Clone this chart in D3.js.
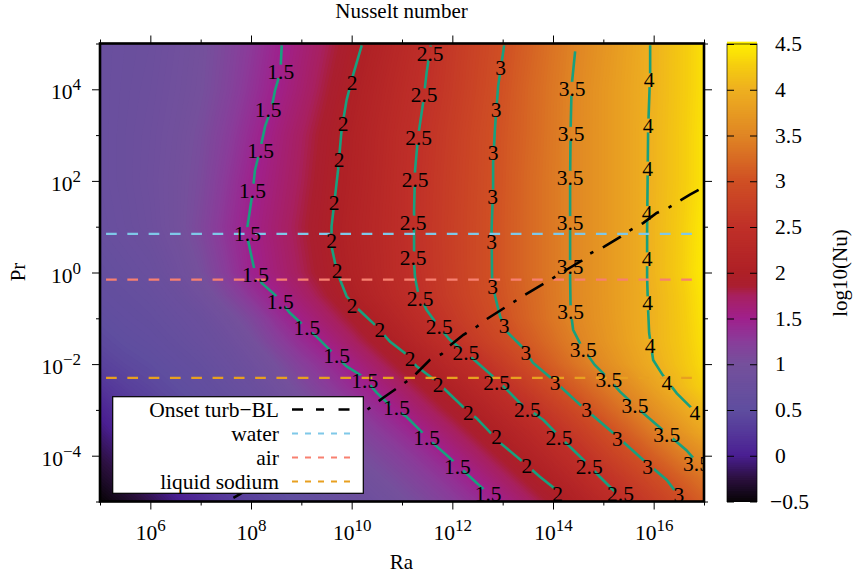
<!DOCTYPE html>
<html>
<head>
<meta charset="utf-8">
<script src="https://cdnjs.cloudflare.com/ajax/libs/d3/7.8.5/d3.min.js"></script>
<style>
  html, body { margin: 0; padding: 0; background: #fff; }
  svg { display: block; }
  text { font-family: "Liberation Serif", serif; fill: #000; }
  .axis path { display: none; }
  .axis line { stroke: #000; stroke-width: 1; }
</style>
</head>
<body>
<svg id="chart" width="853" height="576"></svg>
<script>
// Field grid: log10 of Ra along the columns, log10 of Pr along the rows
var raExps = [5,5.5,6,6.5,7,7.5,8,8.5,9,9.5,10,10.5,11,11.5,12,12.5,13,13.5,14,14.5,15,15.5,16,16.5,17];
var prExps = [5,4,3,2,1,0,-0.5,-1,-1.5,-2,-2.5,-3,-3.5,-4,-4.5,-5];
var logNu = [
  [.72,.76,.8,.88,.98,1.12,1.28,1.46,1.62,1.78,1.94,2.11,2.29,2.47,2.65,2.82,2.99,3.16,3.34,3.51,3.68,3.85,4.02,4.21,4.4],
  [.72,.77,.82,.9,1.0,1.15,1.33,1.51,1.67,1.84,2.01,2.18,2.35,2.51,2.68,2.85,3.02,3.2,3.37,3.54,3.71,3.87,4.03,4.21,4.4],
  [.72,.78,.84,.93,1.05,1.22,1.41,1.59,1.75,1.91,2.07,2.23,2.4,2.56,2.72,2.89,3.05,3.21,3.38,3.55,3.71,3.87,4.04,4.22,4.42],
  [.72,.78,.85,.95,1.08,1.28,1.48,1.63,1.78,1.94,2.09,2.25,2.42,2.58,2.74,2.9,3.06,3.23,3.39,3.55,3.71,3.87,4.04,4.22,4.42],
  [.7,.76,.83,.95,1.12,1.33,1.52,1.67,1.82,1.97,2.12,2.27,2.43,2.59,2.75,2.91,3.07,3.23,3.39,3.55,3.71,3.87,4.05,4.24,4.46],
  [.62,.68,.74,.86,1.02,1.25,1.48,1.63,1.78,1.93,2.09,2.25,2.42,2.58,2.74,2.91,3.07,3.23,3.39,3.55,3.71,3.87,4.05,4.25,4.48],
  [.58,.63,.68,.77,.9,1.1,1.32,1.51,1.68,1.85,2.03,2.2,2.38,2.56,2.72,2.89,3.05,3.21,3.38,3.55,3.71,3.87,4.03,4.22,4.45],
  [.52,.58,.63,.7,.78,.93,1.12,1.35,1.55,1.71,1.88,2.06,2.26,2.46,2.65,2.83,3.01,3.19,3.37,3.54,3.7,3.87,4.03,4.21,4.43],
  [.45,.52,.57,.64,.72,.82,.98,1.2,1.39,1.56,1.73,1.91,2.1,2.31,2.51,2.71,2.9,3.1,3.29,3.48,3.67,3.85,4.03,4.2,4.4],
  [.36,.44,.5,.57,.64,.74,.86,1.02,1.22,1.38,1.55,1.73,1.91,2.09,2.29,2.48,2.71,2.94,3.16,3.37,3.57,3.78,3.98,4.17,4.37],
  [.22,.34,.42,.5,.57,.66,.76,.9,1.07,1.24,1.4,1.56,1.73,1.9,2.08,2.28,2.49,2.71,2.94,3.15,3.36,3.58,3.83,4.07,4.3],
  [.05,.22,.33,.42,.5,.58,.67,.79,.94,1.09,1.23,1.39,1.56,1.73,1.9,2.08,2.28,2.48,2.7,2.92,3.15,3.38,3.62,3.86,4.1],
  [-.08,.08,.2,.32,.41,.5,.58,.7,.82,.96,1.1,1.24,1.38,1.55,1.72,1.9,2.08,2.27,2.48,2.7,2.92,3.15,3.4,3.65,3.9],
  [-.22,-.08,.05,.2,.32,.42,.5,.6,.72,.85,.98,1.1,1.23,1.37,1.54,1.72,1.9,2.09,2.29,2.49,2.72,2.93,3.15,3.39,3.6],
  [-.35,-.22,-.07,.08,.22,.34,.43,.52,.62,.74,.86,.98,1.1,1.23,1.37,1.54,1.72,1.9,2.08,2.29,2.5,2.71,2.92,3.13,3.35],
  [-.5,-.36,-.2,-.03,.12,.26,.36,.45,.55,.65,.76,.87,.98,1.1,1.23,1.37,1.54,1.72,1.9,2.08,2.3,2.52,2.72,2.93,3.15]
];

// Palette stops of the colour box
var cbStops  = [-0.5, -0.25, 0, 0.25, 0.5, 1, 1.25, 1.5, 1.75, 1.85, 2, 2.5, 3, 3.5, 4, 4.25, 4.5];
var cbColors = ["#080408","#2c1040","#4a1f92","#55389a","#5f4e9f","#75509c","#8a3c9a","#a0208c","#a8205e","#aa1f30","#ae2026","#c03028","#d05024","#e08624","#eeb020","#f5cc10","#fff000"];
var cbTicks  = [-0.5,0,0.5,1,1.5,2,2.5,3,3.5,4,4.5];

var raMajor = [6,8,10,12,14,16];
var raMinor = [5,7,9,11,13,15,17];
var prMajor = [4,2,0,-2,-4];
var prMinor = [5,3,1,-1,-3,-5];

// Contour lines, [log10 Ra, log10 Pr]
var contourLevels = [
  {level: "1.5", pts: [[8.61,4.96],[8.59,4.5],[8.54,4.21],[8.48,3.99],[8.41,3.6],[8.28,3.19],[8.18,2.68],[8.08,2.24],[8.03,1.74],[7.97,1.3],[7.91,.87],[7.98,.5],[8.06,.1],[8.21,-.23],[8.51,-.52],[8.77,-.88],[9.03,-1.14],[9.3,-1.4],[9.63,-1.76],[9.9,-2.05],[10.22,-2.27],[10.5,-2.63],[10.82,-2.96],[11.09,-3.15],[11.29,-3.37],[11.61,-3.72],[11.95,-4.05],[12.35,-4.46],[12.68,-4.79]]},
  {level: "2", pts: [[10.2,4.96],[10.1,4.58],[10.03,4.32],[9.9,3.77],[9.8,3.12],[9.73,2.24],[9.67,1.66],[9.6,1.01],[9.6,.57],[9.67,.21],[9.77,-.16],[9.9,-.52],[10.1,-.77],[10.5,-1.18],[10.76,-1.51],[11.06,-1.76],[11.29,-2.05],[11.69,-2.38],[12.21,-2.93],[12.48,-3.18],[12.95,-3.72],[13.4,-4.13],[13.74,-4.46],[14.07,-4.75]]},
  {level: "2.5", pts: [[11.57,4.96],[11.49,4.37],[11.42,3.71],[11.32,2.97],[11.26,2.24],[11.24,1.37],[11.24,.79],[11.24,.21],[11.26,-.12],[11.32,-.44],[11.49,-.82],[11.75,-1.21],[11.95,-1.47],[12.28,-1.76],[12.55,-2.02],[12.95,-2.41],[13.34,-2.85],[13.81,-3.22],[14.2,-3.66],[14.67,-4.16],[14.93,-4.46],[15.26,-4.82]]},
  {level: "3", pts: [[13.03,4.96],[12.91,4.07],[12.85,3.19],[12.81,2.4],[12.81,1.88],[12.78,.93],[12.79,-.12],[12.85,-.52],[12.95,-.96],[13.08,-1.29],[13.41,-1.65],[13.6,-1.97],[14,-2.34],[14.54,-2.89],[15.19,-3.5],[15.79,-4.09],[16.26,-4.53],[16.46,-4.82]]},
  {level: "3.5", pts: [[14.44,4.83],[14.37,4.07],[14.35,3.12],[14.34,2.03],[14.34,.93],[14.34,-.12],[14.35,-.82],[14.4,-1.25],[14.57,-1.62],[14.83,-2.02],[15.13,-2.35],[15.33,-2.6],[15.79,-3.07],[16.18,-3.44],[16.65,-3.88],[16.85,-4.13]]},
  {level: "4", pts: [[15.93,4.96],[15.93,4.37],[15.89,3.12],[15.88,2.03],[15.87,.93],[15.87,-.12],[15.89,-.82],[15.91,-1.32],[15.99,-1.91],[16.18,-2.24],[16.46,-2.64],[16.79,-3]]}
];

// Where gnuplot put the labels on those contours
var contourLabels = [
  {level: "1.5", pts: [[8.59,4.39],[8.34,3.55],[8.19,2.66],[8.03,1.79],[7.93,.84],[8.09,-.05],[8.58,-.64],[9.11,-1.21],[9.7,-1.83],[10.26,-2.37],[10.89,-2.96],[11.49,-3.62],[12.1,-4.24],[12.71,-4.84]]},
  {level: "2", pts: [[10.01,4.14],[9.83,3.25],[9.75,2.45],[9.65,1.52],[9.6,.7],[9.71,.04],[10.01,-.72],[10.56,-1.25],[11.16,-1.89],[11.72,-2.45],[12.32,-3.06],[12.88,-3.6],[13.48,-4.22],[14.09,-4.84]]},
  {level: "2.5", pts: [[11.56,4.78],[11.44,3.87],[11.33,2.94],[11.26,2.03],[11.22,1.09],[11.22,.31],[11.36,-.57],[11.74,-1.19],[12.27,-1.76],[12.88,-2.4],[13.49,-3],[14.12,-3.62],[14.72,-4.24],[15.34,-4.84]]},
  {level: "3", pts: [[12.96,4.47],[12.87,3.55],[12.81,2.61],[12.8,1.66],[12.78,.66],[12.8,-.31],[13.03,-1.17],[13.46,-1.76],[14.04,-2.42],[14.67,-3],[15.28,-3.64],[15.88,-4.24],[16.5,-4.86]]},
  {level: "3.5", pts: [[14.38,4.01],[14.36,3.03],[14.34,2.07],[14.34,1.08],[14.34,.12],[14.35,-.87],[14.6,-1.69],[15.11,-2.35],[15.63,-2.92],[16.26,-3.55],[16.85,-4.17]]},
  {level: "4", pts: [[15.91,4.2],[15.89,3.21],[15.88,2.27],[15.87,1.3],[15.87,.29],[15.88,-.67],[15.93,-1.6],[16.26,-2.4],[16.82,-3.06]]}
];

// Onset of the turbulent boundary layer
var onsetLine = [[7.65,-4.92],[7.78,-4.84],[10.23,-3.06],[10.44,-2.89],[10.62,-2.74],[11.09,-2.38],[11.29,-2.2],[11.55,-1.91],[11.79,-1.78],[11.95,-1.6],[12.22,-1.36],[12.49,-1.18],[12.68,-1.02],[13.08,-.74],[13.44,-.49],[13.81,-.25],[14.27,.06],[14.57,.26],[14.73,.41],[15.01,.56],[15.33,.77],[15.53,.92],[15.79,1.08],[16.06,1.3],[16.29,1.41],[16.52,1.57],[16.72,1.7],[16.95,1.84]];

// Prandtl numbers of the three fluids
var fluidNames  = ["water", "air", "liquid sodium"];
var fluidPr     = [7, 0.7, 0.005];
var fluidColors = ["#7fc8e8", "#f88070", "#e8a020"];
var fluidRaExps = [5.12, 16.78];

var svg = d3.select("#chart");

var x = d3.scaleLog().domain([1e5, 1e17]).range([100, 704]);
var y = d3.scaleLog().domain([1e5, 1e-5]).range([43.5, 501.5]);
var cb = d3.scaleLinear().domain([-0.5, 4.5]).range([501.5, 44]);
var color = d3.scaleLinear().domain(cbStops).range(cbColors);

var defs = svg.append("defs");
defs.append("clipPath").attr("id", "plot-clip")
  .append("rect").attr("x", 100).attr("y", 43.5).attr("width", 604).attr("height", 458);

////////////////////////////////////////////////
// Heat map, as stacked filled contours of the grid

var colIndex = d3.scaleLinear().domain(raExps.map(function(d, i) { return i + 0.5; })).range(raExps);
var rowIndex = d3.scaleLinear().domain(prExps.map(function(d, i) { return i + 0.5; })).range(prExps);

var gridPath = d3.geoPath(d3.geoTransform({
  point: function(cx, cy) {
    this.stream.point(x(Math.pow(10, colIndex(cx))), y(Math.pow(10, rowIndex(cy))));
  }
}));

var bands = d3.range(-0.5, 4.51, 0.02);
var field = d3.contours()
  .size([raExps.length, prExps.length])
  .thresholds(bands)(d3.merge(logNu));

var plot = svg.append("g").attr("clip-path", "url(#plot-clip)");

plot.append("rect")
  .attr("x", 100).attr("y", 43.5).attr("width", 604).attr("height", 458)
  .attr("fill", color(-0.5));

plot.append("g").selectAll("path")
  .data(field)
  .join("path")
    .attr("d", gridPath)
    .attr("fill", function(d) { return color(d.value); });

////////////////////////////////////////////////
// Contours, fluids and onset line

var line = d3.line()
  .x(function(d) { return x(Math.pow(10, d[0])); })
  .y(function(d) { return y(Math.pow(10, d[1])); });

// Contours are broken underneath their labels
var mask = defs.append("mask").attr("id", "label-gaps").attr("maskUnits", "userSpaceOnUse")
  .attr("x", 0).attr("y", 0).attr("width", 853).attr("height", 576);
mask.append("rect").attr("width", 853).attr("height", 576).attr("fill", "#fff");
contourLabels.forEach(function(c) {
  mask.selectAll(null)
    .data(c.pts)
    .join("circle")
      .attr("cx", function(d) { return x(Math.pow(10, d[0])); })
      .attr("cy", function(d) { return y(Math.pow(10, d[1])); })
      .attr("r", 7)
      .attr("fill", "#000");
});

plot.append("g").attr("mask", "url(#label-gaps)").selectAll("path")
  .data(contourLevels)
  .join("path")
    .attr("d", function(d) { return line(d.pts); })
    .attr("fill", "none")
    .attr("stroke", "#18a07e")
    .attr("stroke-width", 2.6);

plot.append("g").selectAll("line")
  .data(fluidPr)
  .join("line")
    .attr("x1", x(Math.pow(10, fluidRaExps[0])))
    .attr("x2", x(Math.pow(10, fluidRaExps[1])))
    .attr("y1", function(d) { return y(d); })
    .attr("y2", function(d) { return y(d); })
    .attr("stroke", function(d, i) { return fluidColors[i]; })
    .attr("stroke-width", 2.2)
    .attr("stroke-dasharray", "10.7,10.6");

plot.append("path")
  .attr("d", line(onsetLine))
  .attr("fill", "none")
  .attr("stroke", "#000")
  .attr("stroke-width", 2.6)
  .attr("stroke-dasharray", "21,10.5,3.5,10.5")
  .attr("stroke-dashoffset", 7.4);

contourLabels.forEach(function(c) {
  plot.append("g").selectAll("text")
    .data(c.pts)
    .join("text")
      .attr("x", function(d) { return x(Math.pow(10, d[0])); })
      .attr("y", function(d) { return y(Math.pow(10, d[1])); })
      .attr("dy", "0.33em")
      .attr("text-anchor", "middle")
      .attr("font-size", 21.5)
      .text(c.level);
});

////////////////////////////////////////////////
// Axes

function power(d) { return Math.pow(10, d); }

function add_ticks(axisFn, scale, values, size, tx, ty) {
  svg.append("g")
    .attr("class", "axis")
    .attr("transform", "translate(" + tx + "," + ty + ")")
    .call(axisFn(scale).tickValues(values.map(power)).tickFormat("").tickSize(size));
}

[[d3.axisBottom, 501.5], [d3.axisTop, 43.5]].forEach(function(a) {
  add_ticks(a[0], x, raMajor, 8, 0, a[1]);
  add_ticks(a[0], x, raMinor, 4, 0, a[1]);
});
[[d3.axisLeft, 100], [d3.axisRight, 704]].forEach(function(a) {
  add_ticks(a[0], y, prMajor, 8, a[1], 0);
  add_ticks(a[0], y, prMinor, 4, a[1], 0);
});

svg.append("rect")
  .attr("x", 100).attr("y", 43.5).attr("width", 604).attr("height", 458)
  .attr("fill", "none")
  .attr("stroke", "#000")
  .attr("stroke-width", 2.6);

function exp_label(sel) {
  sel.append("tspan").text("10");
  sel.append("tspan")
    .attr("dy", -9)
    .attr("font-size", 17)
    .text(function(d) { return String(d).replace("-", "\u2212"); });
}

svg.append("g").selectAll("text")
  .data(raMajor)
  .join("text")
    .attr("x", function(d) { return x(power(d)) + 0.5; })
    .attr("y", 540)
    .attr("text-anchor", "middle")
    .attr("font-size", 21.5)
    .call(exp_label);

svg.append("g").selectAll("text")
  .data(prMajor)
  .join("text")
    .attr("x", 81)
    .attr("y", function(d) { return y(power(d)) + 10; })
    .attr("text-anchor", "end")
    .attr("font-size", 21.5)
    .call(exp_label);

svg.append("text").attr("x", 401.5).attr("y", 18)
  .attr("text-anchor", "middle").attr("font-size", 21).text("Nusselt number");
svg.append("text").attr("x", 401.5).attr("y", 569)
  .attr("text-anchor", "middle").attr("font-size", 21).text("Ra");
svg.append("text").attr("transform", "translate(25,272) rotate(-90)")
  .attr("text-anchor", "middle").attr("font-size", 21).text("Pr");

////////////////////////////////////////////////
// Colour box

var box = svg.append("g");
box.selectAll("rect")
  .data(bands)
  .join("rect")
    .attr("x", 727).attr("width", 30)
    .attr("y", function(d) { return cb(d + 0.02) - 0.5; })
    .attr("height", function(d) { return cb(d) - cb(d + 0.02) + 1; })
    .attr("fill", function(d) { return color(d); });

box.append("rect")
  .attr("x", 727).attr("y", 44).attr("width", 30).attr("height", 457.5)
  .attr("fill", "none").attr("stroke", "#000").attr("stroke-opacity", 0.7).attr("stroke-width", 1);

svg.append("g").attr("class", "axis").attr("transform", "translate(727,0)")
  .call(d3.axisRight(cb).tickValues(cbTicks).tickFormat("").tickSize(7));
svg.append("g").attr("class", "axis").attr("transform", "translate(757,0)")
  .call(d3.axisLeft(cb).tickValues(cbTicks).tickFormat("").tickSize(7));

svg.append("g").selectAll("text")
  .data(cbTicks)
  .join("text")
    .attr("x", 775)
    .attr("y", function(d) { return cb(d); })
    .attr("dx", function(d) { return d < 0 ? -5 : 0; })
    .attr("dy", "0.33em")
    .attr("font-size", 21.5)
    .text(function(d) { return String(d).replace("-", "\u2212"); });

svg.append("text").attr("transform", "translate(847,273) rotate(-90)")
  .attr("text-anchor", "middle").attr("font-size", 21).text("log10(Nu)");

////////////////////////////////////////////////
// Legend

var legendNames  = ["Onset turb\u2212BL"].concat(fluidNames);
var legendColors = ["#000"].concat(fluidColors);

svg.append("rect")
  .attr("x", 112.7).attr("y", 396.7).attr("width", 250.6).attr("height", 96.6)
  .attr("fill", "#fff").attr("stroke", "#000").attr("stroke-width", 1.2);

var legendY = d3.scalePoint().domain(legendNames).range([409.5, 481.5]);

svg.append("g").selectAll("text")
  .data(legendNames)
  .join("text")
    .attr("x", 279)
    .attr("y", function(d) { return legendY(d); })
    .attr("dy", "0.33em")
    .attr("text-anchor", "end")
    .attr("font-size", 21.5)
    .text(function(d) { return d; });

svg.append("g").selectAll("line")
  .data(legendNames)
  .join("line")
    .attr("x1", 292).attr("x2", 350)
    .attr("y1", function(d) { return legendY(d); })
    .attr("y2", function(d) { return legendY(d); })
    .attr("stroke", function(d, i) { return legendColors[i]; })
    .attr("stroke-width", function(d, i) { return i == 0 ? 2.6 : 2.2; })
    .attr("stroke-dasharray", function(d, i) { return i == 0 ? "11,13,8,14.5,11" : "6,7"; });
</script>
</body>
</html>
